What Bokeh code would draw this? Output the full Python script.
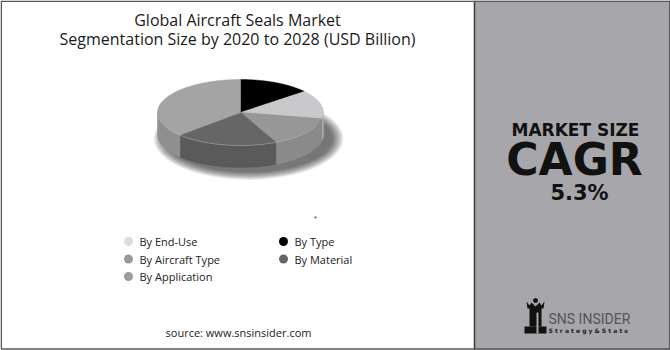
import numpy as np
from bokeh.plotting import figure
from bokeh.models import Range1d
from bokeh.core.properties import value
from bokeh.embed import file_html
from bokeh.resources import INLINE

# ---- data ----
title_lines = ["Global Aircraft Seals Market", "Segmentation Size by 2020 to 2028 (USD Billion)"]
# pie order, clockwise from 12 o'clock
pie_categories = ["By Type", "By End-Use", "By Aircraft Type", "By Material", "By Application"]
pie_values = [14, 14, 15, 20, 37]
pie_colors = ["#000000", "#c9c9cb", "#979797", "#666666", "#a4a4a4"]
side_colors = ["#111111", "#b0b0b2", "#8a8a8a", "#5a5a5a", "#8f8f8f"]
legend_categories = ["By End-Use", "By Type", "By Aircraft Type", "By Material", "By Application"]
legend_colors = ["#dcdcdc", "#000000", "#9a9a9a", "#666666", "#9c9c9c"]
cagr_label = "MARKET SIZE"
cagr_big = "CAGR"
cagr_value = "5.3%"
source_text = "source: www.snsinsider.com"

W, H = 670, 350
p = figure(width=W, height=H, x_range=Range1d(0, W), y_range=Range1d(H, 0),
           output_backend="svg", toolbar_location=None, min_border=0)
p.axis.visible = False
p.grid.visible = False
p.outline_line_color = None
p.background_fill_color = "white"
p.border_fill_color = "white"

FONT = "Open Sans"

# right panel
p.quad(left=474, right=W, top=0, bottom=H, fill_color="#a7a7ab", line_color=None)
p.segment(x0=474, y0=0, x1=474, y1=H, line_color="#3a3a3a", line_width=1.5)
# frame
p.quad(left=0.75, right=W - 0.75, top=0.75, bottom=H - 1.5, fill_color=None,
       line_color="#5a5a5a", line_width=1.6)

# title
for i, t in enumerate(title_lines):
    p.text(x=[237], y=[19 + i * 19], text=[t], text_align="center", text_baseline="middle",
           text_font_size="16px", text_font=value(FONT), text_color="#1a1a1a")

# ---- 3D pie ----
cx, cy, rx, ry, depth = 240, 112, 83, 33, 22

# soft shadow
n_sh = 12
for k in range(n_sh):
    grow = 12 * (1 - k / n_sh)
    p.ellipse(x=[cx + 8], y=[cy + depth + 4], width=[2 * rx + grow * 2], height=[2 * ry + grow * 1.4],
              fill_color="#000000", fill_alpha=0.06, line_color=None)

total = float(sum(pie_values))
angles = []
start = 90.0
for v in pie_values:
    end = start - 360.0 * v / total
    angles.append((start, end))
    start = end

# side walls (front half)
for (s, e), sc in zip(angles, side_colors):
    ts = np.linspace(s, e, 160)
    tn = np.mod(ts, 360)
    mask = (tn >= 180) & (tn <= 360)
    if mask.sum() < 2:
        continue
    tt = ts[mask]
    xs_top = cx + rx * np.cos(np.radians(tt))
    ys_top = cy - ry * np.sin(np.radians(tt))
    xs = np.concatenate([xs_top, xs_top[::-1]])
    ys = np.concatenate([ys_top, ys_top[::-1] + depth])
    p.patch(x=xs, y=ys, fill_color=sc, line_color=sc, line_width=0.5)

# top faces
for (s, e), c in zip(angles, pie_colors):
    tt = np.linspace(s, e, 100)
    xs = np.concatenate([[cx], cx + rx * np.cos(np.radians(tt))])
    ys = np.concatenate([[cy], cy - ry * np.sin(np.radians(tt))])
    p.patch(x=xs, y=ys, fill_color=c, line_color=c, line_width=0.5)

# highlight on front rim
th = np.linspace(205, 335, 100)
p.line(x=cx + rx * np.cos(np.radians(th)), y=cy - ry * np.sin(np.radians(th)),
       line_color="#c4c4c4", line_width=0.8, line_alpha=0.6)

# tiny speck
p.scatter(x=[315], y=[217], size=1.5, color="#777777")

# ---- legend ----
for i, (lab, col) in enumerate(zip(legend_categories, legend_colors)):
    colm, row = i % 2, i // 2
    x0 = 128 + colm * 155
    y0 = 241 + row * 17.5
    p.scatter(x=[x0], y=[y0], size=9, fill_color=col, line_color=None)
    p.text(x=[x0 + 11], y=[y0], text=[lab], text_baseline="middle", text_font_size="11px",
           text_font=value(FONT), text_color="#222222")

# source
p.text(x=[238], y=[332], text=[source_text], text_align="center", text_baseline="middle",
       text_font_size="11px", text_font=value(FONT), text_color="#222222")

# ---- right panel texts ----
p.text(x=[575], y=[129], text=[cagr_label], text_align="center", text_baseline="middle",
       text_font_size="17px", text_font=value("DejaVu Sans"), text_font_style="bold",
       text_color="#111111")
p.text(x=[574], y=[159], text=[cagr_big], text_align="center", text_baseline="middle",
       text_font_size="44px", text_font=value("DejaVu Sans"), text_font_style="bold", text_color="#111111")
p.text(x=[579], y=[192], text=[cagr_value], text_align="center", text_baseline="middle",
       text_font_size="21px", text_font=value("DejaVu Sans"), text_font_style="bold", text_color="#111111")

# logo icon
p.quad(left=529, right=541, top=307, bottom=326, fill_color="#111111", line_color=None)
p.patch(x=[526, 529, 531, 535, 539, 541, 544, 543, 527],
        y=[301, 305, 302, 306, 302, 305, 301, 308, 308], fill_color="#111111", line_color=None)
p.scatter(x=[535], y=[300], size=4, color="#111111")
p.quad(left=524, right=546, top=326, bottom=333, fill_color="#111111", line_color=None)
p.quad(left=536, right=538, top=312, bottom=333, fill_color="#a7a7ab", line_color=None)
p.text(x=[548], y=[318], text=["SNS INSIDER"], text_baseline="middle", text_font_size="14px",
       text_font=value("Roboto"), text_color="#555555")
p.text(x=[548], y=[330], text=["S t r a t e g y    &    S t a t s"], text_baseline="middle",
       text_font_size="6px", text_font=value("DejaVu Sans"), text_font_style="bold",
       text_color="#222222")

open("out.html", "w").write(file_html(p, INLINE))
